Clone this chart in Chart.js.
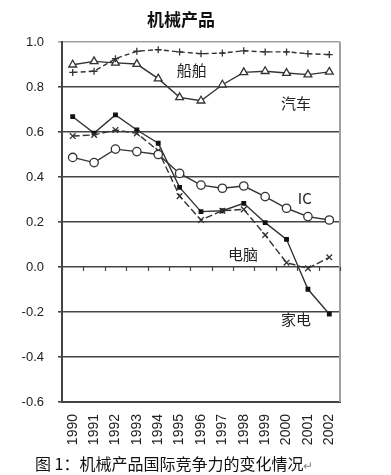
<!DOCTYPE html>
<html>
<head>
<meta charset="utf-8">
<script src="https://cdn.jsdelivr.net/npm/chart.js@4.4.1/dist/chart.umd.min.js"></script>
<style>
  body { margin: 0; background: #fff; }
  #wrap { position: relative; width: 391px; height: 475px; }
  #chart { position: absolute; left: 0; top: 0; }
  #title { position: absolute; left: 0; top: 6px; width: 362px; text-align: center;
           font: bold 17px "Noto Sans CJK SC", sans-serif; color: #111; }
  #caption { position: absolute; left: 35px; top: 451px;
             font: 16px "Noto Sans CJK SC", sans-serif; color: #111; white-space: nowrap; }
</style>
</head>
<body>
<div id="wrap">
  <canvas id="chart" width="391" height="475"></canvas>
  <div id="title">机械产品</div>
  <div id="caption">图 1：机械产品国际竞争力的变化情况<span style="color:#888;font-size:12px">↵</span></div>
</div>
<script>
// chart data
const years = ['1990', '1991', '1992', '1993', '1994', '1995', '1996',
               '1997', '1998', '1999', '2000', '2001', '2002'];
const shipValues = [0.865, 0.870, 0.926, 0.959, 0.966, 0.956, 0.948, 0.951, 0.961, 0.956, 0.956, 0.948, 0.944];
const carValues  = [0.899, 0.914, 0.907, 0.902, 0.837, 0.754, 0.739, 0.810, 0.865, 0.870, 0.862, 0.855, 0.867];
const icValues   = [0.487, 0.464, 0.524, 0.513, 0.500, 0.416, 0.364, 0.350, 0.360, 0.313, 0.261, 0.224, 0.209];
const pcValues   = [0.582, 0.587, 0.609, 0.594, 0.517, 0.315, 0.209, 0.250, 0.256, 0.142, 0.019, -0.006, 0.043];
const homeValues = [0.668, 0.595, 0.676, 0.609, 0.550, 0.354, 0.246, 0.250, 0.283, 0.197, 0.123, -0.099, -0.209];

const LINE = '#333';

// series name labels, placed in data coordinates (category index, value)
const seriesLabels = [
    { text: '船舶', x: 5.57, y: 0.876 },
    { text: '汽车', x: 10.44, y: 0.729 },
    { text: 'IC', x: 10.85, y: 0.307 },
    { text: '电脑', x: 7.96, y: 0.058 },
    { text: '家电', x: 10.44, y: -0.231 }
];

// frame, zero-line ticks and series labels
const decorPlugin = {
    id: 'decor',
    beforeDatasetsDraw(chart) {
        const { ctx, chartArea: a, scales: { x, y } } = chart;
        ctx.save();
        // gray right frame
        ctx.strokeStyle = '#a0a0a0';
        ctx.lineWidth = 2;
        ctx.beginPath();
        ctx.moveTo(a.right, a.top);
        ctx.lineTo(a.right, a.bottom);
        ctx.stroke();
        // tick marks on the zero line, between categories
        const y0 = y.getPixelForValue(0);
        ctx.strokeStyle = '#444';
        ctx.lineWidth = 1.2;
        ctx.beginPath();
        for (let i = 0; i <= years.length; i++) {
            const px = Math.round(x.getPixelForValue(i - 0.5)) + 0.5;
            ctx.moveTo(px, y0);
            ctx.lineTo(px, y0 + 4);
        }
        ctx.stroke();
        ctx.restore();
    },
    afterDatasetsDraw(chart) {
        const { ctx, scales: { x, y } } = chart;
        ctx.save();
        ctx.fillStyle = '#222';
        ctx.font = '15px "Noto Sans CJK SC", sans-serif';
        ctx.textAlign = 'center';
        ctx.textBaseline = 'middle';
        seriesLabels.forEach(l => {
            ctx.fillText(l.text, x.getPixelForValue(l.x), y.getPixelForValue(l.y));
        });
        ctx.restore();
    }
};

const baseSet = {
    borderColor: LINE,
    borderWidth: 1.4,
    tension: 0,
    pointBorderColor: LINE,
    pointBorderWidth: 1.3
};

new Chart(document.getElementById('chart'), {
    type: 'line',
    data: {
        labels: years,
        datasets: [
            { ...baseSet, label: '船舶', data: shipValues, borderDash: [5, 3],
              pointStyle: 'cross', pointRadius: 3.5 },
            { ...baseSet, label: '汽车', data: carValues,
              pointStyle: 'triangle', pointRadius: 4.5, pointBackgroundColor: '#fff' },
            { ...baseSet, label: 'IC', data: icValues,
              pointStyle: 'circle', pointRadius: 4.2, pointBackgroundColor: '#fff' },
            { ...baseSet, label: '电脑', data: pcValues, borderDash: [7, 3],
              pointStyle: 'crossRot', pointRadius: 4 },
            { ...baseSet, label: '家电', data: homeValues,
              pointStyle: 'rect', pointRadius: 2.5, pointBackgroundColor: '#111', pointBorderColor: '#111' }
        ]
    },
    options: {
        responsive: false,
        animation: false,
        layout: { padding: { top: 42, right: 51, left: 0, bottom: 0 } },
        plugins: {
            legend: { display: false },
            title: { display: false },
            tooltip: { enabled: false }
        },
        scales: {
            x: {
                offset: true,
                grid: { display: false, drawTicks: false },
                border: { display: true, color: '#444', width: 2 },
                ticks: {
                    minRotation: 90, maxRotation: 90, padding: 12,
                    color: '#222',
                    font: { family: '"Liberation Sans", Arial, sans-serif', size: 14 }
                },
                afterFit(scale) { scale.height = 73; }
            },
            y: {
                min: -0.6, max: 1.0,
                grid: {
                    color: ctx => (ctx.tick && ctx.tick.value > 0.99) ? '#a0a0a0' : '#444',
                    lineWidth: 1.6,
                    tickLength: 4
                },
                border: { display: true, color: '#444', width: 2 },
                ticks: {
                    stepSize: 0.2, padding: 14,
                    color: '#222',
                    font: { family: '"Liberation Sans", Arial, sans-serif', size: 13 },
                    callback: v => Number(v).toFixed(1)
                },
                afterFit(scale) { scale.width = 62; }
            }
        }
    },
    plugins: [decorPlugin]
});
</script>
</body>
</html>
